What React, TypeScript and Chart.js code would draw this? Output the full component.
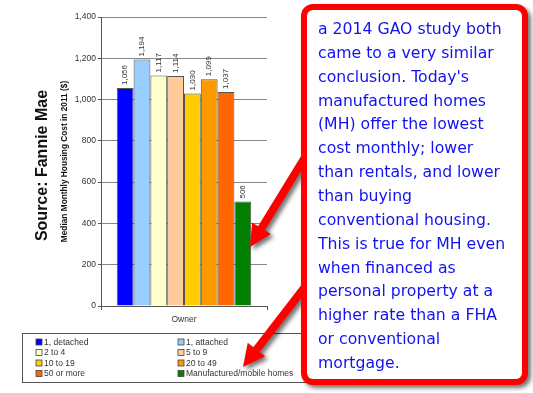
import React, { useEffect, useRef } from "react";
import { Chart, registerables } from "chart.js";

Chart.register(...registerables);

const categories = ["Owner"];
const seriesNames = [
  "1, detached",
  "1, attached",
  "2 to 4",
  "5 to 9",
  "10 to 19",
  "20 to 49",
  "50 or more",
  "Manufactured/mobile homes",
];
const seriesValues = [1056, 1194, 1117, 1114, 1030, 1099, 1037, 506];
const seriesColors = ["#0000ff", "#99ccff", "#ffffcc", "#ffcc99", "#ffcc00", "#ff9900", "#ff6600", "#008000"];
const yMin = 0;
const yMax = 1400;
const yStep = 200;
const yTitle = "Median Monthly Housing Cost in 2011 ($)";
const sourceText = "Source: Fannie Mae";
const calloutLines = [
  "a 2014 GAO study both",
  "came to a very similar",
  "conclusion. Today's",
  "manufactured homes",
  "(MH) offer the lowest",
  "cost monthly; lower",
  "than rentals, and lower",
  "than buying",
  "conventional housing.",
  "This is true for MH even",
  "when financed as",
  "personal property at a",
  "higher rate than a FHA",
  "or conventional",
  "mortgage.",
];

const fmt = (v: number) => v.toLocaleString("en-US");
const ARIAL = "'Liberation Sans', Arial, sans-serif";

function arrowPath(ctx: CanvasRenderingContext2D, x0: number, y0: number, x1: number, y1: number, w: number, hl: number, hw: number) {
  const ang = Math.atan2(y1 - y0, x1 - x0);
  const c = Math.cos(ang), s = Math.sin(ang);
  const px = -s, py = c;
  const bx = x1 - hl * c, by = y1 - hl * s;
  ctx.beginPath();
  ctx.moveTo(x0 + px * w / 2, y0 + py * w / 2);
  ctx.lineTo(bx + px * w / 2, by + py * w / 2);
  ctx.lineTo(bx + px * hw, by + py * hw);
  ctx.lineTo(x1, y1);
  ctx.lineTo(bx - px * hw, by - py * hw);
  ctx.lineTo(bx - px * w / 2, by - py * w / 2);
  ctx.lineTo(x0 - px * w / 2, y0 - py * w / 2);
  ctx.closePath();
}

const overlayPlugin = {
  id: "overlay",
  afterDatasetsDraw(chart: any) {
    const ctx: CanvasRenderingContext2D = chart.ctx;
    chart.data.datasets.forEach((ds: any, i: number) => {
      const meta = chart.getDatasetMeta(i);
      meta.data.forEach((el: any, j: number) => {
        ctx.save();
        ctx.translate(el.x, el.y - 3);
        ctx.rotate(-Math.PI / 2);
        ctx.font = `8px ${ARIAL}`;
        ctx.fillStyle = "#333";
        ctx.textAlign = "left";
        ctx.textBaseline = "middle";
        ctx.fillText(fmt(ds.data[j]), 0, 0);
        ctx.restore();
      });
    });
  },
  afterDraw(chart: any) {
    const ctx: CanvasRenderingContext2D = chart.ctx;
    const area = chart.chartArea;
    // Source text
    ctx.save();
    ctx.translate(43, (area.top + area.bottom) / 2 + 4);
    ctx.rotate(-Math.PI / 2);
    ctx.font = `bold 16px ${ARIAL}`;
    ctx.fillStyle = "#111";
    ctx.textAlign = "center";
    ctx.textBaseline = "middle";
    ctx.fillText(sourceText, 0, 0);
    ctx.restore();

    // Legend
    ctx.save();
    ctx.strokeStyle = "#555";
    ctx.lineWidth = 1;
    ctx.strokeRect(22.5, 333.5, 292, 49);
    const colX = [36, 178];
    const rowY = [342, 352.5, 363, 373.5];
    ctx.font = `8.5px ${ARIAL}`;
    ctx.textBaseline = "middle";
    ctx.textAlign = "left";
    seriesNames.forEach((name, i) => {
      const x = colX[i % 2];
      const y = rowY[Math.floor(i / 2)];
      ctx.fillStyle = seriesColors[i];
      ctx.fillRect(x, y - 3, 6, 6);
      ctx.strokeStyle = "#444";
      ctx.lineWidth = 0.8;
      ctx.strokeRect(x, y - 3, 6, 6);
      ctx.fillStyle = "#333";
      ctx.fillText(name, x + 8, y + 0.5);
    });
    ctx.restore();

    // Arrows
    ctx.save();
    ctx.shadowColor = "rgba(0,0,0,0.55)";
    ctx.shadowBlur = 4;
    ctx.shadowOffsetX = 3;
    ctx.shadowOffsetY = 3;
    ctx.fillStyle = "#ff0000";
    arrowPath(ctx, 318, 136, 250, 247, 8, 22, 11);
    ctx.fill();
    arrowPath(ctx, 318, 270, 243, 367, 8, 22, 11);
    ctx.fill();
    ctx.restore();

    // Callout
    ctx.save();
    ctx.shadowColor = "rgba(0,0,0,0.55)";
    ctx.shadowBlur = 4;
    ctx.shadowOffsetX = 3;
    ctx.shadowOffsetY = 3;
    ctx.fillStyle = "#ff0000";
    ctx.beginPath();
    (ctx as any).roundRect(301, 4, 227, 381, 12);
    ctx.fill();
    ctx.restore();
    ctx.save();
    ctx.fillStyle = "#ffffff";
    ctx.beginPath();
    (ctx as any).roundRect(307, 10, 215, 369, 6);
    ctx.fill();
    ctx.font = `15.7px 'DejaVu Sans', sans-serif`;
    ctx.fillStyle = "#1212ee";
    ctx.textAlign = "left";
    ctx.textBaseline = "alphabetic";
    calloutLines.forEach((line, i) => {
      ctx.fillText(line, 318, 34 + i * 23.86);
    });
    ctx.restore();
  },
};

export default function App() {
  const ref = useRef<HTMLCanvasElement>(null);
  useEffect(() => {
    if (!ref.current) return;
    const chart = new Chart(ref.current, {
      type: "bar",
      data: {
        labels: categories,
        datasets: seriesNames.map((name, i) => ({
          label: name,
          data: [seriesValues[i]],
          backgroundColor: seriesColors[i],
          borderColor: "#555",
          borderWidth: 1,
          barPercentage: 1,
          categoryPercentage: 0.81,
        })),
      },
      options: {
        animation: false,
        responsive: true,
        maintainAspectRatio: false,
        layout: { padding: { left: 58, top: 17, right: 266, bottom: 63 } },
        plugins: { legend: { display: false }, tooltip: { enabled: false } },
        scales: {
          x: {
            afterFit: (s: any) => { s.height = 24; },
            grid: { display: true, drawOnChartArea: false, drawTicks: true, tickLength: 4, color: "#555", offset: true },
            border: { color: "#555", width: 1 },
            ticks: { color: "#333", font: { family: ARIAL, size: 8.5 }, padding: 5 },
          },
          y: {
            min: yMin,
            max: yMax,
            afterFit: (s: any) => { s.width = 43; },
            ticks: {
              stepSize: yStep,
              color: "#333",
              font: { family: ARIAL, size: 8.5 },
              padding: 2,
              callback: (v: any) => fmt(Number(v)),
            },
            grid: { color: "#888", tickLength: 3, tickColor: "#555" },
            border: { color: "#555", width: 1 },
            title: {
              display: true,
              text: yTitle,
              color: "#111",
              font: { family: ARIAL, size: 8.3, weight: "bold" },
              padding: { top: 2, bottom: 2 },
            },
          },
        },
      },
      plugins: [overlayPlugin],
    });
    return () => chart.destroy();
  }, []);
  return (
    <div style={{ position: "fixed", left: 0, top: 0, width: 533, height: 393, background: "#fff" }}>
      <canvas ref={ref} />
    </div>
  );
}
